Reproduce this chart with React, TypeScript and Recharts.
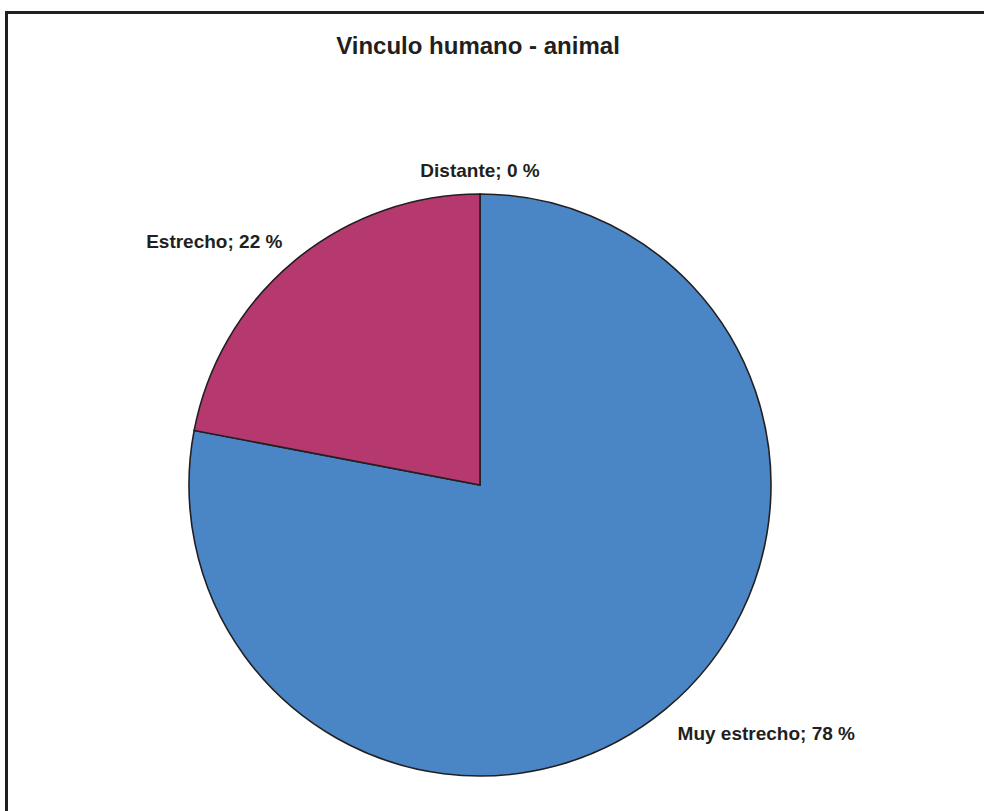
import React from "react";
import { PieChart, Pie, Cell } from "recharts";

const categories = ["Muy estrecho", "Estrecho", "Distante"];
const percentages = [78, 22, 0];
const sliceColors = ["#4a86c5", "#b5386f", "#6f9a3c"];

const data = categories.map((name, i) => ({ name, value: percentages[i] }));

const RADIAN = Math.PI / 180;
const FONT = "'Liberation Sans', Arial, sans-serif";

const renderLabel = (props: any) => {
  const { cx, cy, midAngle, outerRadius, name, value } = props;
  const r = outerRadius + 19;
  const cos = Math.cos(-midAngle * RADIAN);
  const sin = Math.sin(-midAngle * RADIAN);
  const x = cx + r * cos;
  const y = cy + r * sin;
  const anchor = Math.abs(cos) < 0.1 ? "middle" : cos > 0 ? "start" : "end";
  const baseline = sin > 0 ? y + 16 : y + 1.5;
  return (
    <text
      x={x}
      y={baseline}
      textAnchor={anchor}
      fill="#231f20"
      fontFamily={FONT}
      fontWeight="bold"
      fontSize={19}
    >
      {`${name}; ${value} %`}
    </text>
  );
};

export default function App() {
  return (
    <div
      style={{
        position: "absolute",
        left: 0,
        top: 0,
        width: 984,
        height: 811,
        overflow: "hidden",
        background: "#fff",
      }}
    >
      <div
        style={{
          position: "absolute",
          left: 5,
          top: 11,
          width: 1000,
          height: 830,
          border: "3px solid #231f20",
          boxSizing: "border-box",
        }}
      />
      <svg
        width={984}
        height={80}
        style={{ position: "absolute", left: 0, top: 0 }}
      >
        <text
          x={478}
          y={54}
          textAnchor="middle"
          fill="#231f20"
          fontFamily={FONT}
          fontWeight="bold"
          fontSize={24}
        >
          Vinculo humano - animal
        </text>
      </svg>
      <div style={{ position: "absolute", left: 0, top: 0 }}>
        <PieChart
          width={984}
          height={811}
          margin={{ top: 0, right: 0, bottom: 0, left: 0 }}
        >
          <Pie
            data={data}
            dataKey="value"
            nameKey="name"
            cx={480}
            cy={485}
            outerRadius={291}
            startAngle={90}
            endAngle={-270}
            stroke="#231f20"
            strokeWidth={1.6}
            label={renderLabel}
            labelLine={false}
            isAnimationActive={false}
          >
            {data.map((d, i) => (
              <Cell key={d.name} fill={sliceColors[i]} />
            ))}
          </Pie>
        </PieChart>
      </div>
    </div>
  );
}
